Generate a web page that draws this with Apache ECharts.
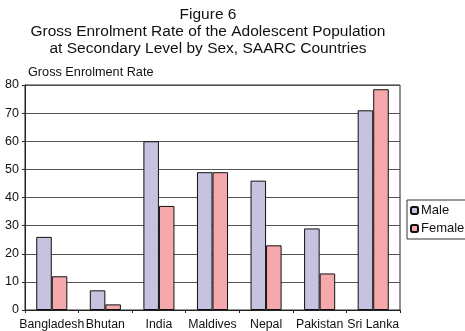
<!DOCTYPE html>
<html><head><meta charset="utf-8">
<script src="https://cdn.jsdelivr.net/npm/echarts@6/dist/echarts.min.js"></script>
<style>html,body{margin:0;padding:0;background:#fff}#c{width:465px;height:331px}</style>
</head><body><div id="c"></div>
<script>
var categories = ["Bangladesh","Bhutan","India","Maldives","Nepal","Pakistan","Sri Lanka"];
var male = [26, 7, 60, 49, 46, 29, 71];
var female = [12, 2, 37, 49, 23, 13, 78.5];
var yTicks = {min: 0, max: 80, interval: 10};
var titleLines = ["Figure 6","Gross Enrolment Rate of the Adolescent Population","at Secondary Level by Sex, SAARC Countries"];
var font = 'Liberation Sans, Arial, sans-serif';
var chart = echarts.init(document.getElementById('c'));
chart.setOption({
  animation: false,
  textStyle: {fontFamily: font},
  title: {
    text: titleLines.join('\n'),
    left: 208, textAlign: 'center', top: 6, padding: 0,
    textStyle: {fontSize: 15.5, fontWeight: 'normal', color: '#111', lineHeight: 17, fontFamily: font}
  },
  legend: {
    orient: 'vertical', left: 407, top: 200,
    itemWidth: 7, itemHeight: 7, itemGap: 5,
    borderColor: '#333', borderWidth: 1, padding: [4, 6, 4, 3],
    textStyle: {fontSize: 13, color: '#111', padding: [0,0,0,-2]},
    data: ['Male','Female']
  },
  grid: {left: 25, right: 65, top: 85, bottom: 21, show: true, borderColor: '#222', borderWidth: 1},
  xAxis: {
    type: 'category', data: categories,
    axisLine: {lineStyle: {color: '#222'}},
    axisTick: {show: true, length: 3, lineStyle: {color: '#222'}},
    axisLabel: {fontSize: 12.3, color: '#111', margin: 9, interval: 0}
  },
  yAxis: {
    type: 'value', min: yTicks.min, max: yTicks.max, interval: yTicks.interval,
    name: 'Gross Enrolment Rate', nameLocation: 'end', nameGap: 6,
    nameTextStyle: {fontSize: 12.7, color: '#111', align: 'left', padding: [0,0,0,3]},
    axisLine: {show: true, lineStyle: {color: '#222'}},
    axisTick: {show: true, length: 3, lineStyle: {color: '#222'}},
    axisLabel: {fontSize: 12.5, color: '#111', margin: 6},
    splitLine: {lineStyle: {color: '#555'}}
  },
  series: [
    {name: 'Male', type: 'bar', data: male, barGap: '0%', barCategoryGap: '42%',
     itemStyle: {color: '#c6c3e1', borderColor: '#111', borderWidth: 1}},
    {name: 'Female', type: 'bar', data: female,
     itemStyle: {color: '#f5a9ad', borderColor: '#111', borderWidth: 1}}
  ]
});
</script></body></html>
